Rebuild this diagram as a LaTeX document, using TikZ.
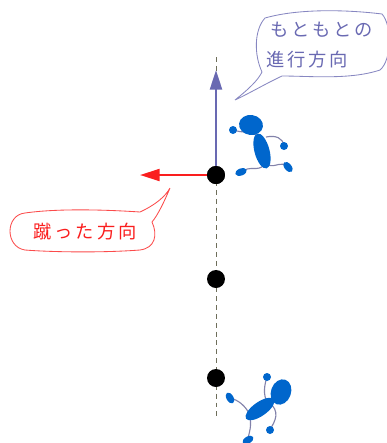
\documentclass[tikz,border=0pt]{standalone}
\usepackage{fontspec}
\newfontfamily\jpfont[LetterSpace=16]{Noto Sans CJK JP}
\usetikzlibrary{arrows.meta}
\definecolor{slate}{RGB}{105,105,178}
\definecolor{kickred}{RGB}{250,30,30}
\definecolor{runblue}{RGB}{0,102,204}
\definecolor{limb}{RGB}{130,130,170}
\definecolor{dashgray}{RGB}{110,110,90}

\begin{document}
\begin{tikzpicture}[x=0.025cm,y=-0.025cm] % one unit = one pixel of the reference
				\tikzset{dot/.style={fill=black,circle,inner sep=0pt,minimum size=12.8pt},
					label/.style={font=\jpfont\fontsize{13}{15}\selectfont,inner sep=0pt},
					bubble/.style={line width=0.6pt},
					limbline/.style={limb,line width=0.8pt},
					arrowtip/.style={-{Triangle[length=14pt,width=8.5pt]}}}
				
				\useasboundingbox (0,0) rectangle (387,443);
				
				% Ends of the path line
				\coordinate (top) at (216,57);
				\coordinate (bottom) at (216,418);
				\draw [dashgray, line width=0.7pt, dash pattern=on 3.5pt off 2.8pt] (top) -- (bottom);
				
				% Arrow tips
				\coordinate (ahead) at (216,70);
				\coordinate (kick) at (140,175);
				
				% Dots on the path
				\foreach \y/\n in {175/a,279/b,378/c}
				{
					\node[dot] (dot\n) at (216,\y) {};
				}
				
				% Original direction and kick direction
				\draw [slate, line width=1.9pt, arrowtip] (dota.center) -- (ahead);
				\draw [kickred, line width=1.6pt, arrowtip] (dota.center) -- (kick);
				\node[dot] at (dota) {};
				
				% Purple bubble
				\draw [slate!80, bubble] (235,100) .. controls (250,88) and (258,80) .. (262,72)
					.. controls (254,55) and (254,30) .. (265,18)
					.. controls (300,8) and (350,10) .. (382,14)
					.. controls (392,25) and (392,60) .. (380,70)
					.. controls (350,80) and (310,76) .. (282,76)
					.. controls (265,84) and (250,93) .. (235,100);
				\node[label, text=slate, anchor=west] (orig1) at (270,30) {もともとの};
				\node[label, text=slate, anchor=west] (orig2) at (266,60) {進行方向};
				
				% Red bubble
				\draw [kickred!80, bubble] (170,188) .. controls (165,200) and (158,215) .. (152,222)
					.. controls (158,235) and (155,248) .. (140,250)
					.. controls (100,253) and (50,252) .. (25,250)
					.. controls (5,247) and (5,215) .. (25,213)
					.. controls (60,208) and (110,210) .. (140,212)
					.. controls (155,205) and (165,197) .. (170,188);
				\node[label, text=kickred] (kicktext) at (85,232) {蹴った方向};
				
				% Upper runner
				\draw [limbline] (258,136) .. controls (250,131) and (242,133) .. (233,130);
				\draw [limbline] (266,137) .. controls (276,135) and (283,138) .. (284,146);
				\draw [limbline] (264,165) .. controls (258,172) and (250,165) .. (241,172);
				\draw [limbline] (268,165) .. controls (276,168) and (282,160) .. (288,167);
				\fill [runblue, rotate around={-8:(251,125)}] (251,125) ellipse [x radius=12, y radius=10];
				\fill [runblue, rotate around={15:(262,151)}] (262,151) ellipse [x radius=7.5, y radius=18];
				\fill [runblue] (233,130) circle (4) (284,146) circle (4);
				\fill [runblue, rotate around={20:(241,172)}] (241,172) ellipse [x radius=6, y radius=3.5];
				\fill [runblue, rotate around={-50:(288,167)}] (288,167) ellipse [x radius=6, y radius=3.5];
				
				% Lower runner
				\draw [limbline] (268,403) .. controls (262,395) and (265,383) .. (267,377);
				\draw [limbline] (272,405) .. controls (281,415) and (272,425) .. (270,430);
				\draw [limbline] (250,415) .. controls (245,405) and (238,400) .. (230,398);
				\draw [limbline] (250,418) .. controls (252,428) and (248,435) .. (248,440);
				\fill [runblue, rotate around={-20:(281,392)}] (281,392) ellipse [x radius=10, y radius=13];
				\fill [runblue, rotate around={35:(260,409)}] (260,409) ellipse [x radius=17, y radius=7];
				\fill [runblue] (267,377) circle (4) (270,430) circle (4);
				\fill [runblue, rotate around={-60:(230,398)}] (230,398) ellipse [x radius=6, y radius=3.5];
				\fill [runblue, rotate around={30:(248,440)}] (248,440) ellipse [x radius=6, y radius=3.5];
				
			\end{tikzpicture}
\end{document}
